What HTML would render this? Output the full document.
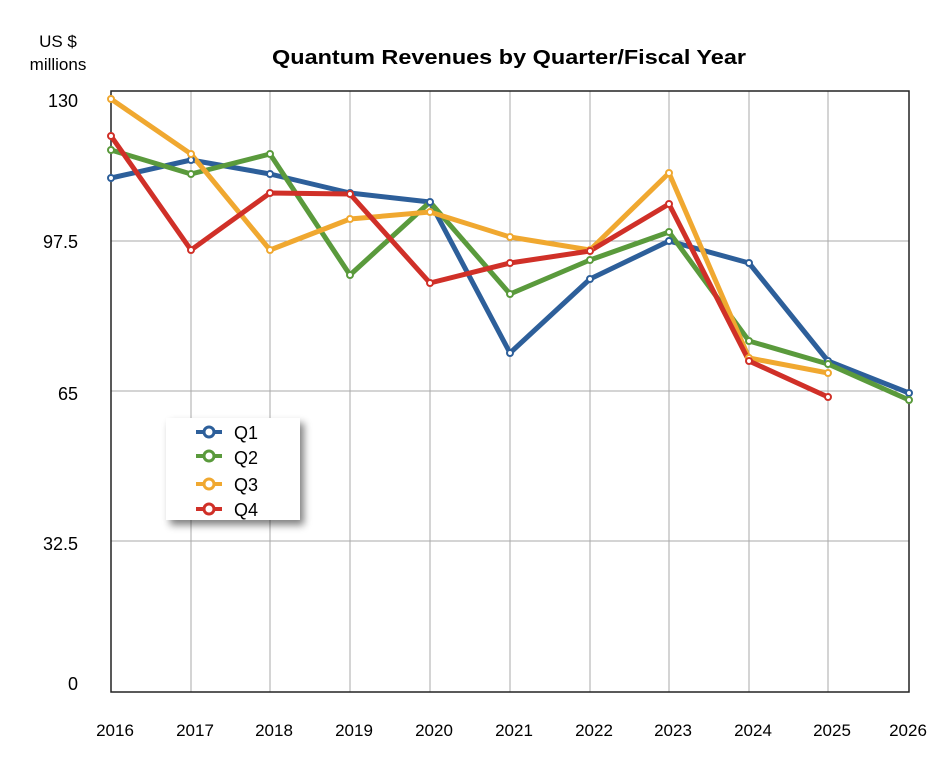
<!DOCTYPE html>
<html><head><meta charset="utf-8"><style>
body{margin:0;background:#fff;}
svg text{font-family:"Liberation Sans",Arial,sans-serif;}
</style></head><body>
<svg width="950" height="761" xmlns="http://www.w3.org/2000/svg">
<defs><filter id="sh" x="-20%" y="-20%" width="150%" height="150%"><feGaussianBlur in="SourceAlpha" stdDeviation="4"/><feOffset dx="4" dy="5"/><feComponentTransfer><feFuncA type="linear" slope="0.5"/></feComponentTransfer><feMerge><feMergeNode/><feMergeNode in="SourceGraphic"/></feMerge></filter></defs>
<rect width="950" height="761" fill="#fff"/>
<text x="272" y="64" font-size="20" font-weight="bold" textLength="474" lengthAdjust="spacingAndGlyphs">Quantum Revenues by Quarter/Fiscal Year</text>
<text x="58" y="47" font-size="17" text-anchor="middle">US $</text>
<text x="58" y="70" font-size="17" text-anchor="middle">millions</text>
<g stroke="#aaa" stroke-width="1">
<line x1="111" y1="241" x2="909" y2="241"/><line x1="111" y1="391" x2="909" y2="391"/><line x1="111" y1="541" x2="909" y2="541"/>
<line x1="191" y1="91" x2="191" y2="692"/><line x1="270" y1="91" x2="270" y2="692"/><line x1="350" y1="91" x2="350" y2="692"/><line x1="430" y1="91" x2="430" y2="692"/><line x1="510" y1="91" x2="510" y2="692"/><line x1="590" y1="91" x2="590" y2="692"/><line x1="669" y1="91" x2="669" y2="692"/><line x1="749" y1="91" x2="749" y2="692"/><line x1="828" y1="91" x2="828" y2="692"/>
</g>
<rect x="111" y="91" width="798" height="601" fill="none" stroke="#222" stroke-width="1.5"/>
<g font-size="18" text-anchor="end">
<text x="78" y="107">130</text><text x="78" y="248">97.5</text><text x="78" y="400">65</text><text x="78" y="550">32.5</text><text x="78" y="690">0</text>
</g>
<g font-size="17" text-anchor="middle">
<text x="115" y="736">2016</text><text x="195" y="736">2017</text><text x="274" y="736">2018</text><text x="354" y="736">2019</text><text x="434" y="736">2020</text><text x="514" y="736">2021</text><text x="594" y="736">2022</text><text x="673" y="736">2023</text><text x="753" y="736">2024</text><text x="832" y="736">2025</text><text x="908" y="736">2026</text>
</g>
<g fill="none" stroke-width="5" stroke-linejoin="round">
<polyline stroke="#2d5f9a" points="111,178 191,160 270,174 350,193 430,202 510,353 590,279 669,241 749,263 828,361 909,393"/>
<polyline stroke="#5a9a3c" points="111,150 191,174 270,154 350,275 430,202 510,294 590,260 669,232 749,341 828,364 909,400"/>
<polyline stroke="#f0a830" points="111,99 191,154 270,250 350,219 430,212 510,237 590,250 669,173 749,358 828,373"/>
<polyline stroke="#d03028" points="111,136 191,250 270,193 350,194 430,283 510,263 590,251 669,204 749,361 828,397"/>
</g>
<g fill="#fff" stroke-width="2">
<g stroke="#2d5f9a"><circle cx="111" cy="178" r="3"/><circle cx="191" cy="160" r="3"/><circle cx="270" cy="174" r="3"/><circle cx="350" cy="193" r="3"/><circle cx="430" cy="202" r="3"/><circle cx="510" cy="353" r="3"/><circle cx="590" cy="279" r="3"/><circle cx="669" cy="241" r="3"/><circle cx="749" cy="263" r="3"/><circle cx="828" cy="361" r="3"/><circle cx="909" cy="393" r="3"/></g>
<g stroke="#5a9a3c"><circle cx="111" cy="150" r="3"/><circle cx="191" cy="174" r="3"/><circle cx="270" cy="154" r="3"/><circle cx="350" cy="275" r="3"/><circle cx="510" cy="294" r="3"/><circle cx="590" cy="260" r="3"/><circle cx="669" cy="232" r="3"/><circle cx="749" cy="341" r="3"/><circle cx="828" cy="364" r="3"/><circle cx="909" cy="400" r="3"/></g>
<g stroke="#f0a830"><circle cx="111" cy="99" r="3"/><circle cx="191" cy="154" r="3"/><circle cx="270" cy="250" r="3"/><circle cx="350" cy="219" r="3"/><circle cx="430" cy="212" r="3"/><circle cx="510" cy="237" r="3"/><circle cx="590" cy="250" r="3"/><circle cx="669" cy="173" r="3"/><circle cx="749" cy="358" r="3"/><circle cx="828" cy="373" r="3"/></g>
<g stroke="#d03028"><circle cx="111" cy="136" r="3"/><circle cx="191" cy="250" r="3"/><circle cx="270" cy="193" r="3"/><circle cx="350" cy="194" r="3"/><circle cx="430" cy="283" r="3"/><circle cx="510" cy="263" r="3"/><circle cx="590" cy="251" r="3"/><circle cx="669" cy="204" r="3"/><circle cx="749" cy="361" r="3"/><circle cx="828" cy="397" r="3"/></g>
</g>
<rect x="166" y="418" width="134" height="102" fill="#fff" filter="url(#sh)"/>
<g stroke-width="4" fill="#fff">
<line x1="196" y1="432" x2="222" y2="432" stroke="#2d5f9a"/><circle cx="209" cy="432" r="5" stroke="#2d5f9a" stroke-width="3"/>
<line x1="196" y1="456" x2="222" y2="456" stroke="#5a9a3c"/><circle cx="209" cy="456" r="5" stroke="#5a9a3c" stroke-width="3"/>
<line x1="196" y1="484" x2="222" y2="484" stroke="#f0a830"/><circle cx="209" cy="484" r="5" stroke="#f0a830" stroke-width="3"/>
<line x1="196" y1="509" x2="222" y2="509" stroke="#d03028"/><circle cx="209" cy="509" r="5" stroke="#d03028" stroke-width="3"/>
</g>
<g font-size="18"><text x="234" y="439">Q1</text><text x="234" y="464">Q2</text><text x="234" y="491">Q3</text><text x="234" y="516">Q4</text></g>
</svg>
</body></html>
